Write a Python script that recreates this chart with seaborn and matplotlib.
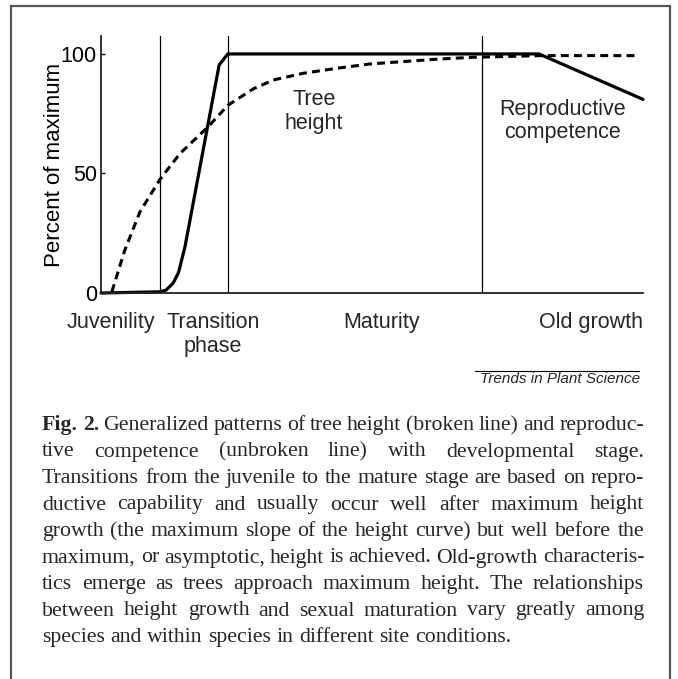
import numpy as np
import pandas as pd
import seaborn as sns
import matplotlib.pyplot as plt
from matplotlib.lines import Line2D
from matplotlib.patches import Rectangle

# Curves (x = developmental time, 0-100; y = percent of maximum)
repro_x = [0, 10.9, 12.0, 13.3, 14.3, 15.5, 21.8, 23.4, 80.8, 100]
repro_y = [0, 0.5, 1.2, 4.1, 8.5, 19.4, 95.4, 100, 100, 81]
height_x = [2.0, 4.4, 7.2, 10.9, 14.6, 19.8, 23.4, 28.1, 31.8, 37.3, 43.5, 49.6,
            55.8, 61.9, 68.7, 81.3, 98.5]
height_y = [0.5, 18, 34, 47.6, 58.4, 69.6, 78.5, 85.4, 89.1, 91.9, 94.0, 95.8,
            96.8, 97.8, 98.6, 99.3, 99.3]

stage_bounds = [10.9, 23.4, 70.3]
stage_names = ['Juvenility', 'Transition\nphase', 'Maturity', 'Old growth']
y_ticks = [0, 50, 100]

caption_lines = [
    'Fig. 2. Generalized patterns of tree height (broken line) and reproduc-',
    'tive competence (unbroken line) with developmental stage.',
    'Transitions from the juvenile to the mature stage are based on repro-',
    'ductive capability and usually occur well after maximum height',
    'growth (the maximum slope of the height curve) but well before the',
    'maximum, or asymptotic, height is achieved. Old-growth characteris-',
    'tics emerge as trees approach maximum height. The relationships',
    'between height growth and sexual maturation vary greatly among',
    'species and within species in different site conditions.',
]

sns.set_theme(style='white')
plt.rcParams['font.family'] = ['Liberation Sans', 'DejaVu Sans']

W, H = 678, 679
fig = plt.figure(figsize=(W / 100, H / 100), dpi=100)
ax = fig.add_axes([101 / W, 1 - 293 / H, 542 / W, 257 / H])

df_r = pd.DataFrame({'x': repro_x, 'y': repro_y})
df_h = pd.DataFrame({'x': height_x, 'y': height_y})
sns.lineplot(data=df_r, x='x', y='y', ax=ax, color='black', lw=2.3, sort=False,
             estimator=None, clip_on=False, solid_joinstyle='round')
sns.lineplot(data=df_h, x='x', y='y', ax=ax, color='black', lw=2.2, sort=False,
             estimator=None, clip_on=False, linestyle=(0, (2.6, 1.7)))

for b in stage_bounds:
    ax.axvline(b, color='black', lw=0.9)

ax.set_xlim(0, 100)
ax.set_ylim(0, 107.5)
ax.set_xticks([])
ax.set_yticks(y_ticks)
ax.set_yticklabels([str(t) for t in y_ticks])
ax.tick_params(axis='y', direction='in', length=3, width=1, pad=3, labelsize=15.5,
               left=True, colors='black')
ax.set_xlabel('')
ax.set_ylabel('Percent of maximum', fontsize=16, color='black', labelpad=-3)
for s in ['top', 'right']:
    ax.spines[s].set_visible(False)
for s in ['left', 'bottom']:
    ax.spines[s].set_color('#222222')
    ax.spines[s].set_linewidth(1.3)

# stage labels under the axis
stage_pos = [(1.85, 'center'), (20.7, 'center'), (51.7, 'center'), (100, 'right')]
for name, (xp, ha) in zip(stage_names, stage_pos):
    ax.text(xp, -0.075, name, transform=ax.get_xaxis_transform(), ha=ha, va='top',
            fontsize=15.5, linespacing=1.15, multialignment='center', clip_on=False)

ax.text(39.3, 76.0, 'Tree\nheight', ha='center', va='center', fontsize=15.5,
        linespacing=1.15)
ax.text(85.1, 72.0, 'Reproductive\ncompetence', ha='center', va='center', fontsize=15.5,
        linespacing=1.15)

# source line
fig.text(640 / W, 1 - 379 / H, 'Trends in Plant Science', ha='right', va='center',
         fontsize=11, style='italic')
fig.add_artist(Line2D([475 / W, 639 / W], [1 - 371 / H, 1 - 371 / H], color='black', lw=0.8))

# outer frame
fig.add_artist(Rectangle((11 / W, -0.05), (670 - 11) / W, 1.05 - 6 / H, fill=False,
                         edgecolor='#555555', lw=1.6))

# justified caption
serif = ['Liberation Serif', 'DejaVu Serif']
renderer = fig.canvas.get_renderer()
left_px, right_px = 42, 644
base0, step = 430, 26.5

probe = fig.text(0, 0, caption_lines[-1], fontsize=13, family=serif)
w_last = probe.get_window_extent(renderer).width
probe.remove()
cap_fs = 13 * 466 / w_last

for i, line in enumerate(caption_lines):
    words = line.split(' ')
    y = 1 - (base0 + i * step) / H
    objs = []
    for j, w in enumerate(words):
        bold = (i == 0 and j < 2)
        t = fig.text(0, y, w, fontsize=cap_fs, family=serif, va='baseline',
                     weight='bold' if bold else 'normal')
        objs.append(t)
    widths = [t.get_window_extent(renderer).width for t in objs]
    if i == len(caption_lines) - 1:
        gap = fig.text(0, 0, ' ', fontsize=cap_fs, family=serif)
        g = gap.get_window_extent(renderer).width
        gap.remove()
    else:
        g = (right_px - left_px - sum(widths)) / (len(words) - 1)
    x = left_px
    for t, w in zip(objs, widths):
        t.set_x(x / W)
        x += w + g

fig.savefig('out.png', dpi=100)
